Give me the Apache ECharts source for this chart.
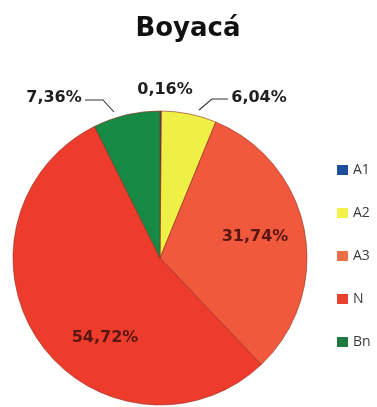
<!DOCTYPE html>
<html>
<head>
<meta charset="utf-8">
<script src="https://cdn.jsdelivr.net/npm/echarts@6/dist/echarts.min.js"></script>
<style>
  html, body { margin: 0; padding: 0; background: #ffffff; }
  #chart { width: 377px; height: 407px; }
</style>
</head>
<body>
<div id="chart"></div>
<script>
// Land share by class, Boyacá (percent)
const categories = ['A1', 'A2', 'A3', 'N', 'Bn'];
const shares = [0.16, 6.04, 31.74, 54.72, 7.36];
const sliceColors = ['#1d4f9c', '#eef046', '#f0593b', '#ee3c2c', '#178a45'];
const legendColors = ['#1d4f9c', '#f2f24a', '#ec7045', '#e8412e', '#1f7a40'];

// Where each value label sits: outer labels carry a bent leader line
const labelSpots = [
  { x: 165, y: 90, line: null },
  { x: 259, y: 98, line: [[199, 110], [212, 99], [228, 99]] },
  { x: 255, y: 237, line: null },
  { x: 105, y: 338, line: null },
  { x: 54, y: 98, line: [[114, 112], [103, 100], [85, 100]] }
];
const insideLabel = [false, false, true, true, false];

const fmt = v => v.toFixed(2).replace('.', ',') + '%';

const pieData = categories.map((name, i) => ({
  name: name,
  value: shares[i],
  itemStyle: { color: sliceColors[i] },
  label: {
    color: insideLabel[i] ? '#5a1614' : '#1e1e1e'
  },
  labelLine: { show: !!labelSpots[i].line }
}));

const chart = echarts.init(document.getElementById('chart'), null, { renderer: 'canvas' });

chart.setOption({
  backgroundColor: '#ffffff',
  animation: false,
  title: {
    text: 'Boyacá',
    left: 183,
    top: 11,
    textAlign: 'center',
    textStyle: {
      fontFamily: 'DejaVu Sans',
      fontWeight: 'bold',
      fontSize: 26,
      color: '#111111'
    }
  },
  legend: {
    orient: 'vertical',
    left: 337,
    top: 163,
    padding: 0,
    itemWidth: 11,
    itemHeight: 10,
    itemGap: 29,
    icon: 'rect',
    selectedMode: false,
    data: categories.map((name, i) => ({
      name: name,
      itemStyle: { color: legendColors[i], borderWidth: 0 }
    })),
    textStyle: {
      fontFamily: 'Open Sans',
      fontSize: 14,
      lineHeight: 14,
      color: '#3a3a3a'
    }
  },
  series: [{
    type: 'pie',
    center: [160, 258],
    radius: 147,
    startAngle: 90,
    clockwise: true,
    avoidLabelOverlap: false,
    minShowLabelAngle: 0,
    itemStyle: {
      borderColor: '#8f2a1c',
      borderWidth: 0.6
    },
    label: {
      show: true,
      formatter: p => fmt(p.value),
      fontFamily: 'DejaVu Sans',
      fontWeight: 'bold',
      fontSize: 16
    },
    labelLine: {
      lineStyle: { color: '#333333', width: 1.1 }
    },
    labelLayout: function (params) {
      const s = labelSpots[params.dataIndex];
      const out = {
        x: s.x,
        y: s.y,
        align: 'center',
        verticalAlign: 'middle'
      };
      if (s.line) out.labelLinePoints = s.line;
      return out;
    },
    data: pieData
  }]
});
</script>
</body>
</html>
